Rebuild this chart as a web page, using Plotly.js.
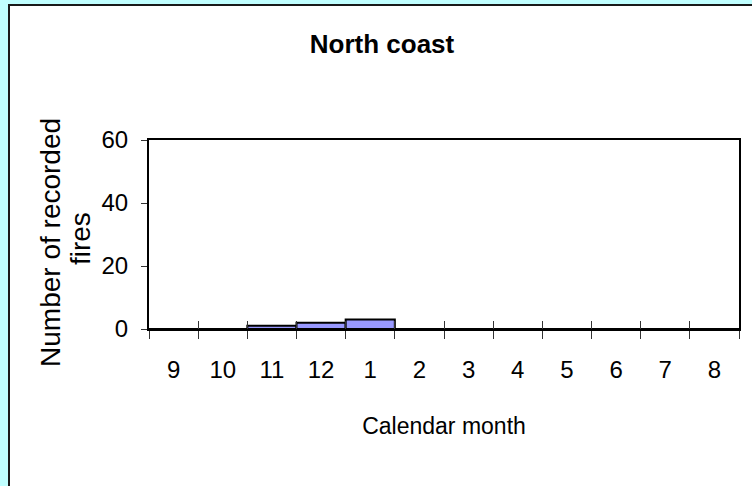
<!DOCTYPE html>
<html>
<head>
<meta charset="utf-8">
<script src="https://cdn.plot.ly/plotly-3.0.1.min.js"></script>
<style>
  html, body { margin: 0; padding: 0; }
  body { width: 752px; height: 486px; background: #C0FFFF; overflow: hidden; position: relative; }
  #frame { position: absolute; left: 8px; top: 4px; width: 744px; height: 482px;
           border-left: 2px solid #1a1a1a; border-top: 2px solid #1a1a1a; background: #fff; }
  #chart { position: absolute; left: 0; top: 0; width: 744px; height: 482px; }
</style>
</head>
<body>
<div id="frame"><div id="chart"></div></div>
<script>
const months = ['9', '10', '11', '12', '1', '2', '3', '4', '5', '6', '7', '8'];
const fires = [0, 0, 1, 2, 3, 0, 0, 0, 0, 0, 0, 0];
const yTicks = [0, 20, 40, 60];
const chartTitle = 'North coast';
const xTitle = 'Calendar month';
const yTitleLine1 = 'Number of recorded';
const yTitleLine2 = 'fires';

const narrow = '"Liberation Sans Narrow", "Arial Narrow", "Liberation Sans", Arial, sans-serif';
const regular = '"Liberation Sans", Arial, sans-serif';

const traces = [
  {
    type: 'bar', x: months, y: fires, xaxis: 'x', yaxis: 'y',
    marker: { color: '#9999FF', line: { color: '#000', width: 2 } },
    hoverinfo: 'x+y', showlegend: false
  },
  {
    type: 'bar', x: months, y: fires, xaxis: 'x2', yaxis: 'y',
    marker: { color: 'rgba(0,0,0,0)', line: { width: 0 } },
    hoverinfo: 'skip', showlegend: false
  }
];

const layout = {
  width: 744, height: 482,
  margin: { l: 139, r: 15, t: 134, b: 159 },
  paper_bgcolor: '#fff', plot_bgcolor: '#fff',
  bargap: 0,
  showlegend: false,
  title: {
    text: '<b>' + chartTitle + '</b>',
    font: { family: narrow, size: 26, color: '#000' },
    x: 0.5, xref: 'container', xanchor: 'center',
    y: 1 - 38 / 482, yref: 'container', yanchor: 'middle'
  },
  xaxis: {
    type: 'category', categoryorder: 'array', categoryarray: months,
    tickson: 'boundaries', ticks: 'outside', ticklen: 8, tickwidth: 1, tickcolor: '#333',
    showline: true, linewidth: 2, linecolor: '#000', mirror: true,
    showgrid: false, zeroline: false,
    tickfont: { family: narrow, size: 24, color: '#000' },
    ticklabelstandoff: 18,
    title: { text: xTitle, font: { family: narrow, size: 23, color: '#000' }, standoff: 36 }
  },
  xaxis2: {
    type: 'category', categoryorder: 'array', categoryarray: months,
    overlaying: 'x', anchor: 'y', side: 'bottom',
    tickson: 'boundaries', ticks: 'inside', ticklen: 8, tickwidth: 1, tickcolor: '#333',
    showline: false, showgrid: false, zeroline: false, showticklabels: false
  },
  yaxis: {
    range: [0, 60], tickvals: yTicks, ticktext: yTicks.map(String),
    ticks: 'outside', ticklen: 6, tickwidth: 1, tickcolor: '#333',
    showline: true, linewidth: 2, linecolor: '#000', mirror: true,
    showgrid: false, zeroline: false,
    tickfont: { family: narrow, size: 24, color: '#000' },
    ticklabelstandoff: 8
  },
  annotations: [
    {
      text: yTitleLine1, textangle: -90, showarrow: false,
      xref: 'paper', yref: 'paper', x: -0.168, y: 0.46, xanchor: 'center', yanchor: 'middle',
      font: { family: regular, size: 28, color: '#000' }
    },
    {
      text: yTitleLine2, textangle: -90, showarrow: false,
      xref: 'paper', yref: 'paper', x: -0.117, y: 0.481, xanchor: 'center', yanchor: 'middle',
      font: { family: regular, size: 28, color: '#000' }
    }
  ]
};

Plotly.newPlot('chart', traces, layout, { displayModeBar: false, staticPlot: true });
</script>
</body>
</html>
